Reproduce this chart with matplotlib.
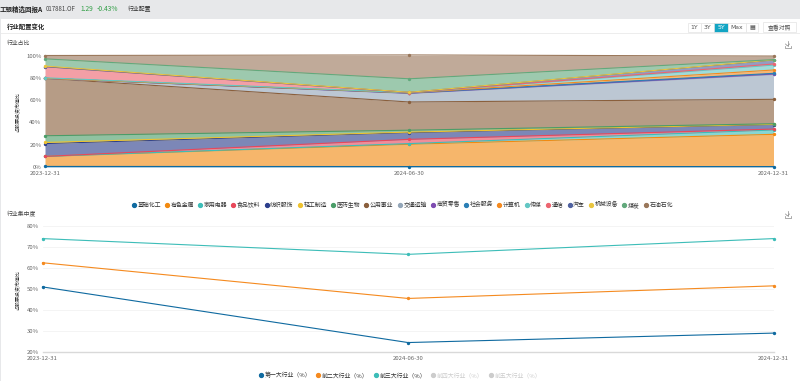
import matplotlib
matplotlib.use("Agg")
import matplotlib.pyplot as plt
from matplotlib.lines import Line2D
from matplotlib.patches import Rectangle
import numpy as np

plt.rcParams['font.family'] = ['Noto Sans CJK SC', 'DejaVu Sans']

dates = ['2023-12-31', '2024-06-30', '2024-12-31']
industries = ['基础化工', '有色金属', '家用电器', '食品饮料', '纺织服饰', '轻工制造', '医药生物', '公用事业', '交通运输',
              '商贸零售', '社会服务', '计算机', '传媒', '通信', '汽车', '机械设备', '煤炭', '石油石化']
colors = ['#0f6aa0', '#f28a10', '#3dbdb8', '#e8485a', '#2c3e8c', '#eec22f', '#4a9d68', '#8a5f3c', '#93a6b8',
          '#7d4bb0', '#2a7fb5', '#f58a1f', '#63c7c4', '#ec6570', '#4f61a0', '#e9c53f', '#62a97c', '#9a775a']
# share of each industry, percent
jcvalues = [0.5, 0.4, 0.4]
ysvalues = [9.0, 20.0, 28.9]
jdvalues = [0.0, 0.6, 3.9]
spvalues = [0.0, 3.8, 0.8]
fzvalues = [11.5, 6.0, 4.0]
qgvalues = [1.0, 0.5, 0.3]
yyvalues = [6.0, 1.7, 0.5]
gyvalues = [51.5, 25.3, 21.9]
jtvalues = [0.0, 7.7, 22.3]
smvalues = [0.0, 0.2, 0.4]
shvalues = [0.0, 0.2, 0.6]
jsvalues = [0.0, 0.1, 3.0]
cmvalues = [0.5, 0.2, 4.4]
txvalues = [10.0, 0.1, 1.0]
qcvalues = [0.0, 0.1, 3.4]
jxvalues = [0.5, 0.1, 0.3]
mtvalues = [6.5, 12.1, 0.2]
syvalues = [3.0, 21.4, 3.2]
shares = [jcvalues, ysvalues, jdvalues, spvalues, fzvalues, qgvalues, yyvalues, gyvalues, jtvalues,
          smvalues, shvalues, jsvalues, cmvalues, txvalues, qcvalues, jxvalues, mtvalues, syvalues]

top1 = [51, 24.5, 29]
top2 = [62.5, 45.5, 51.5]
top3 = [74, 66.5, 74]
conc_names = ['第一大行业（%）', '前二大行业（%）', '前三大行业（%）', '前四大行业（%）', '前五大行业（%）']
conc_colors = ['#0f6aa0', '#f58a1f', '#3dbdb8', '#cccccc', '#cccccc']
share_ticks = [0, 20, 40, 60, 80, 100]
conc_ticks = [20, 30, 40, 50, 60, 70, 80]
ylabel = '占股票投资市值比'

W, H = 800, 381
fig = plt.figure(figsize=(8, 3.81), dpi=100, facecolor='white')

def box(l, t, r, b):
    return [l / W, 1 - b / H, (r - l) / W, (b - t) / H]

def px(x, y):
    return x / W, 1 - y / H

# chrome
fig.patches.append(Rectangle((0, 1 - 19 / H), 1, 19 / H, transform=fig.transFigure, fc='#e7e8ea', ec='none'))
fig.patches.append(Rectangle((0, 0), 1 / W, 1, transform=fig.transFigure, fc='#e7e8ea', ec='none'))
fig.add_artist(Line2D([1 / W, 1], [1 - 33 / H] * 2, color='#ededed', lw=0.7))

txt = dict(va='center', ha='left')
fig.text(*px(0, 9), '工银精选回报A', fontsize=4.7, fontweight='bold', color='#222222', **txt)
fig.text(*px(46, 9.3), '017881.OF', fontsize=4.4, color='#444444', **txt)
fig.text(*px(80, 9), '1.29', fontsize=4.8, color='#2f9e44', **txt)
fig.text(*px(97, 9), '-0.43%', fontsize=4.8, color='#2f9e44', **txt)
fig.text(*px(128, 9), '行业配置', fontsize=4.2, color='#333333', **txt)
fig.text(*px(7, 27), '行业配置变化', fontsize=4.6, fontweight='bold', color='#222222', **txt)
fig.text(*px(7, 43), '行业占比', fontsize=4.2, color='#444444', **txt)
fig.text(*px(7, 214), '行业集中度', fontsize=4.2, color='#444444', **txt)

# range buttons
buttons = [('1Y', 688, 701), ('3Y', 701, 714), ('5Y', 714, 728), ('Max', 728, 746), ('▦', 746, 758)]
for lab, l, r in buttons:
    active = lab == '5Y'
    fig.patches.append(Rectangle((l / W, 1 - 32 / H), (r - l) / W, 9 / H, transform=fig.transFigure,
                                 fc='#12a5c4' if active else 'white', ec='#e3e3e3', lw=0.5))
    fig.text((l + r) / 2 / W, 1 - 27.3 / H, lab, fontsize=4.4, ha='center', va='center',
             color='white' if active else '#555555', family=['DejaVu Sans'])
fig.patches.append(Rectangle((763 / W, 1 - 32 / H), 33 / W, 10 / H, transform=fig.transFigure,
                             fc='white', ec='#e3e3e3', lw=0.5))
fig.text(779.5 / W, 1 - 27.3 / H, '查看对照', fontsize=4.2, ha='center', va='center', color='#555555')

x = np.arange(len(dates))

# stacked share chart
ax = fig.add_axes(box(45, 55.5, 773.5, 167))
ax.set_facecolor('none')
arr = np.array(shares, dtype=float)
cum = np.cumsum(arr, axis=0)
base = np.zeros(len(dates))
for i, c in enumerate(colors):
    ax.fill_between(x, base, cum[i], color=c, alpha=0.62, lw=0, zorder=2)
    ax.plot(x, cum[i], color=c, lw=0.8, zorder=3, marker='o', ms=1.4, clip_on=False)
    base = cum[i]
ax.set_xlim(0, 2)
ax.set_ylim(0, 100)
ax.set_yticks(share_ticks, [f'{v}%' for v in share_ticks])
ax.set_xticks(x, dates)

# concentration chart
ax2 = fig.add_axes(box(42.5, 226, 773.5, 352))
ax2.set_facecolor('none')
for vals, c in zip([top1, top2, top3], conc_colors):
    ax2.plot(x, vals, color=c, lw=0.8, marker='o', ms=1.4, clip_on=False, zorder=3)
ax2.set_xlim(0, 2)
ax2.set_ylim(20, 80)
ax2.set_yticks(conc_ticks, [f'{v}%' for v in conc_ticks])
ax2.set_xticks(x, dates)
ax2.grid(axis='y', color='#f3f3f3', lw=0.6)
ax2.set_axisbelow(True)

for a in (ax, ax2):
    for s in a.spines.values():
        s.set_visible(False)
    a.tick_params(length=0, labelsize=4.3, labelcolor='#666666')
    a.tick_params(axis='x', pad=3)
    a.tick_params(axis='y', pad=2.5)
ax2.spines['bottom'].set_visible(True)
ax2.spines['bottom'].set_color('#d9d9d9')
ax2.spines['bottom'].set_linewidth(1.0)
fig.text(17.5 / W, 1 - 112 / H, ylabel, rotation=90, fontsize=3.6, ha='center', va='center', color='#333333')
fig.text(17.5 / W, 1 - 289.5 / H, ylabel, rotation=90, fontsize=3.6, ha='center', va='center', color='#333333')

# legends
h1 = [Line2D([], [], ls='none', marker='o', ms=2.8, color=c) for c in colors]
fig.legend(h1, industries, loc='center', bbox_to_anchor=(402.5 / W, 1 - 204.5 / H), ncol=18, frameon=False,
           fontsize=4.25, handletextpad=0.3, columnspacing=0.75, handlelength=0.6, labelcolor='#333333',
           borderpad=0, borderaxespad=0)
h2 = [Line2D([], [], ls='none', marker='o', ms=2.8, color=c) for c in conc_colors]
leg = fig.legend(h2, conc_names, loc='center', bbox_to_anchor=(400 / W, 1 - 375 / H), ncol=5, frameon=False,
                 fontsize=4.25, handletextpad=0.3, columnspacing=0.95, handlelength=0.6,
                 borderpad=0, borderaxespad=0)
for t, c in zip(leg.get_texts(), ['#333333'] * 3 + ['#cccccc'] * 2):
    t.set_color(c)

# download icons, drawn as small shapes
for y0 in (45, 215):
    cx = 787.5
    segs = [([cx, cx], [y0 - 4, y0 + 1]), ([cx - 2, cx, cx + 2], [y0 - 1, y0 + 1, y0 - 1]),
            ([cx - 3, cx - 3, cx + 3, cx + 3], [y0 + 1, y0 + 3, y0 + 3, y0 + 1])]
    for xs, ys in segs:
        fig.add_artist(Line2D([v / W for v in xs], [1 - v / H for v in ys], color='#888888', lw=0.5))

fig.savefig('out.png', dpi=100, facecolor='white')
